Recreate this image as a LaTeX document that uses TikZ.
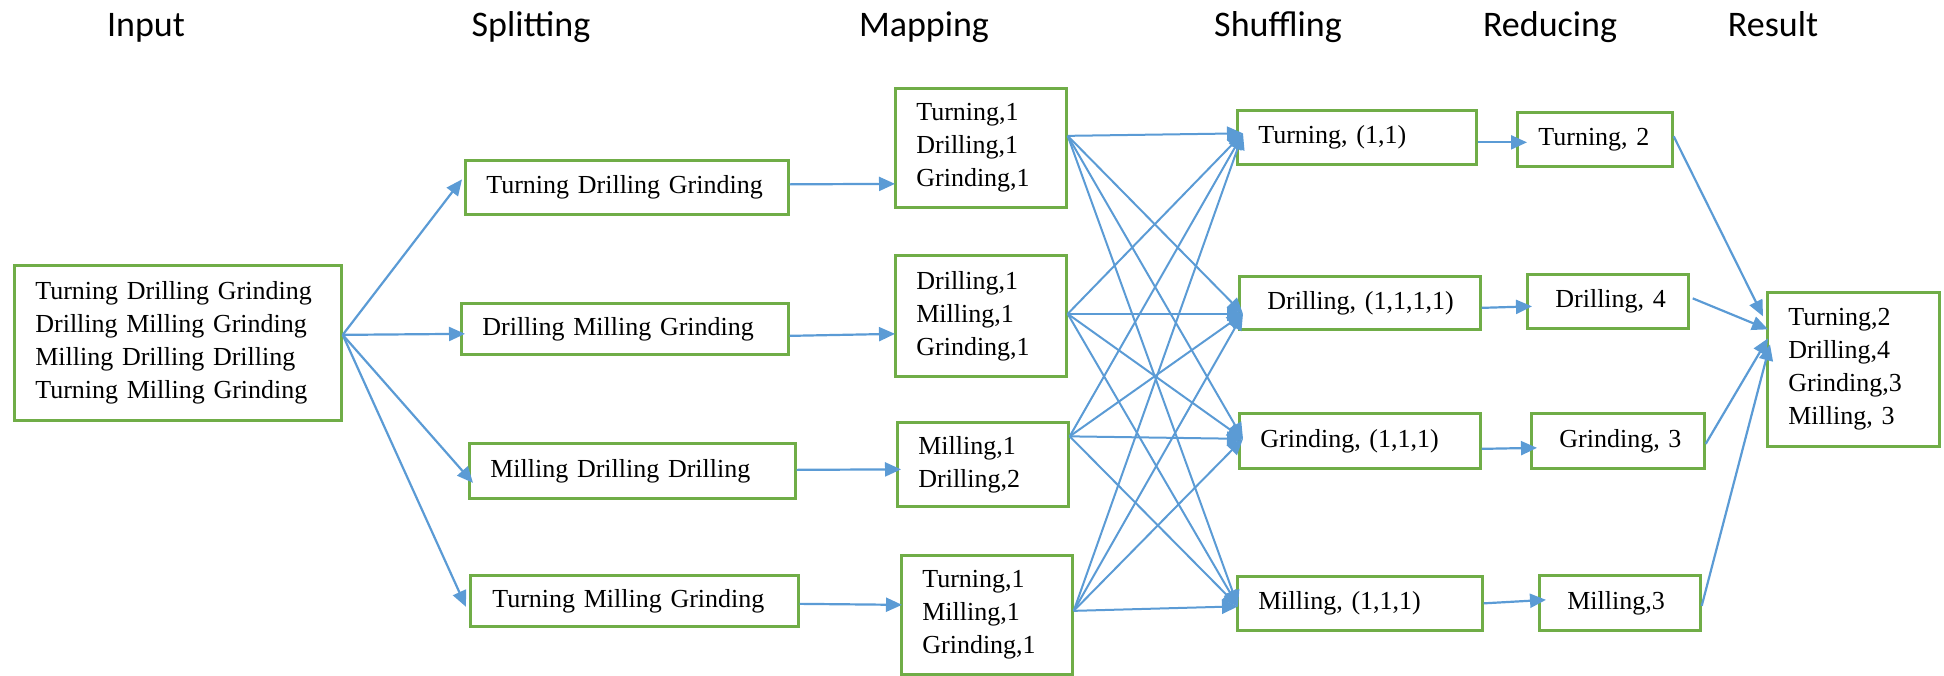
\documentclass[tikz,border=0pt]{standalone}
\usepackage{fontspec}
\setmainfont{Liberation Serif}
\newfontfamily\titlefont{Carlito}
\usetikzlibrary{arrows.meta}
\definecolor{boxgreen}{HTML}{70AD47}
\definecolor{arrblue}{HTML}{5B9BD5}
\tikzset{
  box/.style={draw=boxgreen, line width=2.7pt, align=left, inner ysep=0pt,
    anchor=north west, font=\fontsize{26}{33}\selectfont},
  arr/.style={draw=arrblue, line width=2.2pt, -{Triangle[length=16pt,width=14pt]}},
  xarr/.style={draw=arrblue, line width=2pt, -{Triangle[length=16pt,width=14pt]}},
  ttl/.style={anchor=base, font=\titlefont\fontsize{36}{42}\selectfont}
}
\begin{document}
\begin{tikzpicture}[x=1pt,y=-1pt]
\useasboundingbox (0,0) rectangle (1944,675);
% titles
\node[ttl] (t1) at (146,36) {Input};
\node[ttl] (t2) at (531,36) {Splitting};
\node[ttl] (t3) at (924,36) {Mapping};
\node[ttl] (t4) at (1278,36) {Shuffling};
\node[ttl] (t5) at (1550,36) {Reducing};
\node[ttl] (t6) at (1773,36) {Result};
% input
\node[box, inner xsep=21pt, text width=285pt, minimum height=155pt] (in) at (13,264)
  {Turning~Drilling~Grinding\\Drilling~Milling~Grinding\\Milling~Drilling~Drilling\\Turning~Milling~Grinding};
% splitting
\node[box, inner xsep=21pt, text width=281pt, minimum height=54pt] (s1) at (464,159) {Turning~Drilling~Grinding};
\node[box, inner xsep=21pt, text width=285pt, minimum height=51pt] (s2) at (460,302) {Drilling~Milling~Grinding};
\node[box, inner xsep=21pt, text width=284pt, minimum height=55pt] (s3) at (468,442) {Milling~Drilling~Drilling};
\node[box, inner xsep=22pt, text width=284pt, minimum height=51pt] (s4) at (469,574) {Turning~Milling~Grinding};
% mapping
\node[box, inner xsep=21pt, text width=129pt, minimum height=119pt] (m1) at (894,87) {Turning,1\\Drilling,1\\Grinding,1};
\node[box, inner xsep=21pt, text width=129pt, minimum height=121pt] (m2) at (894,254) {Drilling,1\\Milling,1\\Grinding,1};
\node[box, inner xsep=21pt, text width=129pt, minimum height=84pt] (m3) at (896,421) {Milling,1\\Drilling,2};
\node[box, inner xsep=21pt, text width=129pt, minimum height=119pt] (m4) at (900,554) {Turning,1\\Milling,1\\Grinding,1};
% shuffling
\node[box, inner xsep=21pt, text width=197pt, minimum height=54pt] (sh1) at (1236,109) {Turning,~(1,1)};
\node[box, inner xsep=28pt, text width=185pt, minimum height=53pt] (sh2) at (1238,275) {Drilling,~(1,1,1,1)};
\node[box, inner xsep=21pt, text width=199pt, minimum height=55pt] (sh3) at (1238,412) {Grinding,~(1,1,1)};
\node[box, inner xsep=21pt, text width=203pt, minimum height=54pt] (sh4) at (1236,575) {Milling,~(1,1,1)};
% reducing
\node[box, inner xsep=21pt, text width=113pt, minimum height=54pt] (r1) at (1516,111) {Turning,~2};
\node[box, inner xsep=28pt, text width=105pt, minimum height=54pt] (r2) at (1526,273) {Drilling,~4};
\node[box, inner xsep=28pt, text width=117pt, minimum height=55pt] (r3) at (1530,412) {Grinding,~3};
\node[box, inner xsep=28pt, text width=105pt, minimum height=55pt] (r4) at (1538,574) {Milling,3};
% result
\node[box, inner xsep=21pt, text width=130pt, minimum height=154pt] (res) at (1766,291) {Turning,2\\Drilling,4\\Grinding,3\\Milling,~3};

% input -> splitting
\coordinate (ino) at ([yshift=8pt]in.east);
\draw[arr] (ino) -- ([shift={(-2pt,8pt)}]s1.west);
\draw[arr] (ino) -- ([shift={(5pt,-5pt)}]s2.west);
\draw[arr] (ino) -- ([shift={(5pt,-12pt)}]s3.west);
\draw[arr] (ino) -- ([shift={(-3pt,-6pt)}]s4.west);
% splitting -> mapping
\draw[arr] ([yshift=3pt]s1.east) -- ([shift={(1pt,-36pt)}]m1.west);
\draw[arr] ([yshift=-7pt]s2.east) -- ([shift={(1pt,-18pt)}]m2.west);
\draw[arr] ([yshift=1pt]s3.east) -- ([shift={(5pt,-5pt)}]m3.west);
\draw[arr] ([yshift=-3pt]s4.east) -- ([shift={(2pt,10pt)}]m4.west);
% mapping -> shuffling
\coordinate (m1o) at ([yshift=12pt]m1.east);
\coordinate (m2o) at ([yshift=2pt]m2.east);
\coordinate (m3o) at ([yshift=28pt]m3.east);
\coordinate (m4o) at ([yshift=4pt]m4.east);
\coordinate (sh1i) at ([shift={(7pt,4pt)}]sh1.west);
\coordinate (sh2i) at ([shift={(5pt,-11pt)}]sh2.west);
\coordinate (sh3i) at ([shift={(5pt,2pt)}]sh3.west);
\coordinate (sh4i) at ([shift={(2pt,-3pt)}]sh4.west);
\foreach \m in {m1o,m2o,m3o,m4o}
  \foreach \s in {sh1i,sh2i,sh3i,sh4i}
    \draw[xarr] (\m) -- (\s);
% shuffling -> reducing
\draw[arr] ([yshift=-5pt]sh1.east) -- ([shift={(11pt,-3pt)}]r1.west);
\draw[arr] ([yshift=-5pt]sh2.east) -- ([shift={(6pt,-5pt)}]r2.west);
\draw[arr] ([yshift=-8pt]sh3.east) -- ([shift={(7pt,-7pt)}]r3.west);
\draw[arr] (sh4.east) -- ([shift={(8pt,3pt)}]r4.west);
% reducing -> result
\draw[arr] ([yshift=3pt]r1.east) -- ([shift={(-3pt,53pt)}]res.west);
\draw[arr] ([shift={(3pt,3pt)}]r2.east) -- ([shift={(2pt,40pt)}]res.west);
\draw[arr] ([yshift=-3pt]r3.east) -- ([shift={(2pt,31pt)}]res.west);
\draw[arr] ([yshift=-3pt]r4.east) -- ([shift={(4pt,25pt)}]res.west);
\end{tikzpicture}
\end{document}
